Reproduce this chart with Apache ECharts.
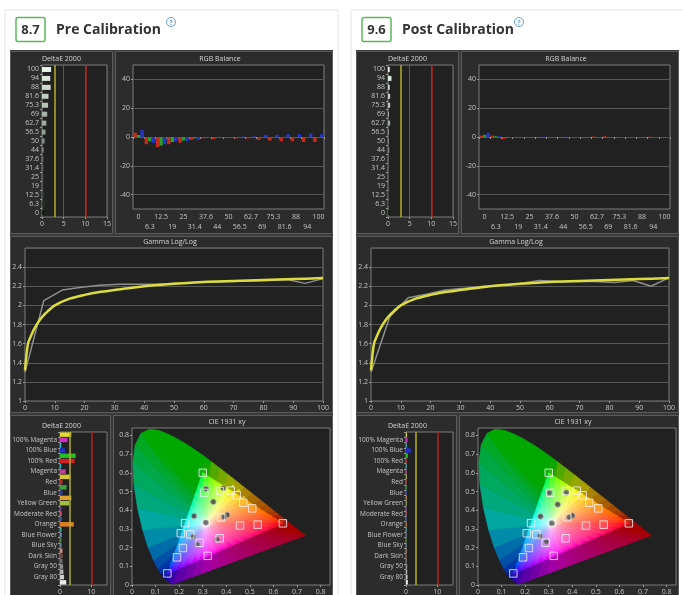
<!DOCTYPE html>
<html>
<head>
<meta charset="utf-8">
<script src="https://cdn.jsdelivr.net/npm/echarts@6/dist/echarts.min.js"></script>
<style>
  html, body { margin: 0; padding: 0; background: #fff; }
  #chart { width: 683px; height: 595px; }
</style>
</head>
<body>
<div id="chart"></div>
<script>
// grayscale steps (stimulus %)
const grayLevels = ['0', '6.3', '12.5', '19', '25', '31.4', '37.6', '44', '50', '56.5', '62.7', '69', '75.3', '81.6', '88', '94', '100'];
const grayStim = [0, 6.3, 12.5, 19, 25, 31.4, 37.6, 44, 50, 56.5, 62.7, 69, 75.3, 81.6, 88, 94, 100];

// DeltaE 2000 per grayscale step
const preGrayDE = [0.5, 0.8, 0.5, 0.3, 0.3, 0.3, 0.3, 0.4, 0.6, 0.8, 1.0, 1.2, 1.4, 1.5, 2.0, 1.9, 2.1];
const postGrayDE = [0.5, 0.2, 0.2, 0.1, 0.1, 0.1, 0.1, 0.3, 0.2, 0.2, 0.5, 0.2, 0.5, 0.5, 0.4, 0.8, 0.4];

// RGB balance (%)
const preR = [3, -5, -7, -5, -4, -2, -1, -1.5, -0.5, -1, -1, -2, -2.5, -3, -3, -3.5, -3.5];
const preG = [1.5, -3, -6, -3.5, -2.5, -1, -0.3, -0.2, 0, 0, 0, 0, 0, 0, 0, 0, 0];
const preB = [5, -4, -5, -3, -3, -2, -0.5, 0, 0, 0.3, 0.5, 1.5, 1.5, 2, 2, 2.5, 2];
const postR = [1, 1, -1.5, -0.5, -0.3, 0, -0.2, -0.2, -0.3, -0.3, 0.3, 0.5, 0, -0.3, -0.3, 0.2, -0.2];
const postG = [1.5, 0.5, -0.5, 0, 0, 0, 0, 0, 0, 0, 0, 0, 0, 0, 0, 0, 0];
const postB = [3, 0.5, -0.5, 0, 0, 0.3, 0, 0.2, -0.3, 0, 0, 0, -0.3, -0.4, 0, -0.3, -0.3];

// gamma log/log
const gammaTargetX = [0, 1, 2, 3, 5, 7, 10, 15, 20, 25, 30, 40, 50, 60, 70, 80, 90, 100];
const gammaTarget = [1.32, 1.6, 1.68, 1.75, 1.85, 1.92, 2.0, 2.07, 2.11, 2.14, 2.16, 2.2, 2.225, 2.245, 2.255, 2.265, 2.275, 2.285];
const preGamma = [1.3, 2.05, 2.16, 2.19, 2.21, 2.22, 2.22, 2.22, 2.23, 2.24, 2.245, 2.25, 2.255, 2.26, 2.27, 2.23, 2.28];
const postGamma = [1.3, 1.88, 2.08, 2.12, 2.16, 2.18, 2.2, 2.21, 2.23, 2.26, 2.25, 2.25, 2.25, 2.24, 2.26, 2.2, 2.29];

// colour patches, top to bottom
const patchNames = ['100% Yellow', '100% Magenta', '100% Cyan', '100% Blue', '100% Green', '100% Red',
  'Cyan', 'Magenta', 'Yellow', 'Red', 'Green', 'Blue', 'Orange Yellow', 'Yellow Green', 'Purple',
  'Moderate Red', 'Purplish Blue', 'Orange', 'Bluish Green', 'Blue Flower', 'Foliage', 'Blue Sky',
  'Light Skin', 'Dark Skin', 'Gray 35', 'Gray 50', 'Gray 65', 'Gray 80', 'White'];
const preColorDE = [3.6, 2.4, 0.4, 1.6, 5.0, 4.7, 0.4, 1.8, 3.3, 0.8, 2.1, 0.8, 3.6, 2.9, 0.5,
  0.6, 0.6, 4.4, 0.5, 0.6, 0.5, 0.5, 0.8, 0.9, 0.8, 1.0, 1.1, 1.3, 2.0];
const postColorDE = [0.3, 0.5, 0.2, 1.5, 0.6, 0.2, 0.2, 0.2, 0.2, 0.2, 0.2, 0.2, 0.2, 0.2, 0.2,
  0.2, 0.2, 0.2, 0.2, 0.2, 0.2, 0.2, 0.2, 0.3, 0.3, 0.4, 0.4, 0.5, 0.6];

// CIE 1931 xy
const spectralLocus = [
  [0.1741, 0.0050], [0.1714, 0.0051], [0.1644, 0.0109], [0.1566, 0.0177], [0.1440, 0.0297],
  [0.1355, 0.0399], [0.1241, 0.0578], [0.1096, 0.0868], [0.0913, 0.1327], [0.0687, 0.2007],
  [0.0454, 0.2950], [0.0235, 0.4127], [0.0082, 0.5384], [0.0039, 0.6548], [0.0139, 0.7502],
  [0.0389, 0.8120], [0.0743, 0.8338], [0.1142, 0.8262], [0.1547, 0.8059], [0.1929, 0.7816],
  [0.2296, 0.7543], [0.2658, 0.7243], [0.3016, 0.6923], [0.3373, 0.6589], [0.3731, 0.6245],
  [0.4087, 0.5896], [0.4441, 0.5547], [0.4788, 0.5202], [0.5125, 0.4866], [0.5448, 0.4544],
  [0.5752, 0.4242], [0.6029, 0.3965], [0.6270, 0.3725], [0.6658, 0.3340], [0.6915, 0.3083],
  [0.7190, 0.2809], [0.7347, 0.2653]];
const gamutPrimaries = [[0.64, 0.33], [0.30, 0.60], [0.15, 0.06]];
const whitePoint = [0.3127, 0.329];
const cieTargets = [[0.300, 0.600], [0.306, 0.493], [0.373, 0.503], [0.419, 0.505], [0.444, 0.480],
  [0.472, 0.440], [0.510, 0.410], [0.640, 0.330], [0.533, 0.323], [0.458, 0.318], [0.378, 0.362],
  [0.313, 0.332], [0.225, 0.331], [0.207, 0.277], [0.247, 0.271], [0.287, 0.226], [0.372, 0.250],
  [0.216, 0.198], [0.191, 0.148], [0.321, 0.156], [0.150, 0.062]];
const preMeasured = [[0.314, 0.514], [0.387, 0.518], [0.345, 0.445], [0.263, 0.369], [0.404, 0.375],
  [0.390, 0.364], [0.259, 0.258], [0.277, 0.217], [0.362, 0.244], [0.313, 0.334]];
const postMeasured = [[0.303, 0.493], [0.375, 0.495], [0.338, 0.431], [0.265, 0.367], [0.400, 0.371],
  [0.387, 0.362], [0.262, 0.262], [0.290, 0.232], [0.313, 0.330]];
const preYellowSweep = [[0.428, 0.530], [0.452, 0.505], [0.474, 0.470]];

const FONT = 'Open Sans';
const LBL = { color: '#c4c4c4', fontSize: 7, fontFamily: FONT };
const patchColors = ['#e0dc30', '#d030c8', '#30c0c8', '#2030c8', '#20c020', '#d02020', '#30b0c0', '#c040a0',
  '#d8c830', '#b03030', '#40a040', '#3040a0', '#e0a030', '#a0c040', '#704080', '#c05060', '#4050a0',
  '#e08020', '#40b0a0', '#7080b0', '#508040', '#6080a0', '#c09080', '#705040', '#707070', '#909090',
  '#b0b0b0', '#d0d0d0', '#e8e8e8'];

function xyToRgb(xy, k) {
  const x = xy[0], y = xy[1];
  const X = x / y, Y = 1, Z = (1 - x - y) / y;
  let r = Math.max(0, 3.2406 * X - 1.5372 * Y - 0.4986 * Z);
  let g = Math.max(0, -0.9689 * X + 1.8758 * Y + 0.0415 * Z);
  let b = Math.max(0, 0.0557 * X - 0.2040 * Y + 1.0570 * Z);
  const m = Math.max(r, g, b) || 1;
  const f = c => {
    c = c / m;
    c = c <= 0.0031308 ? 12.92 * c : 1.055 * Math.pow(c, 1 / 2.4) - 0.055;
    return Math.round(255 * c * k);
  };
  return 'rgb(' + f(r) + ',' + f(g) + ',' + f(b) + ')';
}

// one thin slice of the diagram, from the white point out to the edge a-b
// (colours are sampled further out than the real position, for a more saturated look)
function slice(api, a, b, k, push) {
  const pw = api.coord(whitePoint), pa = api.coord(a), pb = api.coord(b);
  const m = [(a[0] + b[0]) / 2, (a[1] + b[1]) / 2];
  const pm = api.coord(m);
  const stops = [];
  for (let i = 0; i <= 6; i++) {
    const t = i / 6, s = Math.pow(t, push);
    const p = [whitePoint[0] + s * (m[0] - whitePoint[0]), whitePoint[1] + s * (m[1] - whitePoint[1])];
    stops.push({ offset: t, color: xyToRgb(p, k) });
  }
  const grad = new echarts.graphic.LinearGradient(pw[0], pw[1], pm[0], pm[1], stops, true);
  return { type: 'polygon', shape: { points: [pw, pa, pb] }, style: { fill: grad, stroke: grad, lineWidth: 0.7 } };
}

function split(a, b, n) {
  const out = [];
  for (let i = 0; i < n; i++) out.push([a[0] + (b[0] - a[0]) * i / n, a[1] + (b[1] - a[1]) * i / n]);
  return out;
}

function renderDiagram(params, api) {
  const kids = [];
  const ring = spectralLocus.concat(split(spectralLocus[spectralLocus.length - 1], spectralLocus[0], 14).slice(1));
  for (let i = 0; i < ring.length; i++) kids.push(slice(api, ring[i], ring[(i + 1) % ring.length], 0.66, 0.35));
  for (let j = 0; j < 3; j++) {
    const pts = split(gamutPrimaries[j], gamutPrimaries[(j + 1) % 3], 14).concat([gamutPrimaries[(j + 1) % 3]]);
    for (let i = 0; i < pts.length - 1; i++) kids.push(slice(api, pts[i], pts[i + 1], 1, 0.6));
  }
  return { type: 'group', children: kids };
}

function grayColor(p) {
  const v = Math.round(20 + 210 * Math.pow(grayStim[p.dataIndex] / 100, 0.9));
  return 'rgb(' + v + ',' + Math.min(255, v + 12) + ',' + v + ')';
}

const limitLines = {
  silent: true, symbol: 'none', label: { show: false },
  data: [
    { xAxis: 3, lineStyle: { color: '#b4ae2a', width: 1.5, type: 'solid' } },
    { xAxis: 10, lineStyle: { color: '#b42222', width: 1.5, type: 'solid' } }
  ]
};

const gridStyle = { show: true, backgroundColor: '#212121', borderColor: '#7c7c7c', borderWidth: 1 };
const tick = { show: true, length: 2, lineStyle: { color: '#9a9a9a' } };
const split5 = { show: true, lineStyle: { color: '#585858', width: 1 } };

const option = { animation: false, backgroundColor: '#fff', grid: [], xAxis: [], yAxis: [], series: [], graphic: [] };

function addPanel(ox, d) {
  const g = option.grid.length;
  option.grid.push(
    Object.assign({ left: ox + 42, top: 65, width: 65, height: 152 }, gridStyle),
    Object.assign({ left: ox + 133, top: 65, width: 191, height: 144 }, gridStyle),
    Object.assign({ left: ox + 25, top: 248, width: 298, height: 153 }, gridStyle),
    Object.assign({ left: ox + 60, top: 432, width: 47, height: 158 }, gridStyle),
    Object.assign({ left: ox + 132, top: 428, width: 198, height: 159 }, gridStyle)
  );
  option.xAxis.push(
    { type: 'value', gridIndex: g, min: 0, max: 15, interval: 5, axisLine: { show: false }, axisTick: tick,
      axisLabel: Object.assign({ margin: 3 }, LBL), splitLine: split5 },
    { type: 'category', gridIndex: g + 1, data: grayLevels, axisLine: { show: false },
      axisTick: { show: true, length: 2, interval: 0, lineStyle: { color: '#9a9a9a' } },
      axisLabel: Object.assign({ interval: 0, margin: 3, lineHeight: 10, formatter: (v, i) => (i % 2 ? '\n' + v : v) }, LBL) },
    { type: 'value', gridIndex: g + 2, min: 0, max: 100, interval: 10, axisLine: { show: false }, axisTick: tick,
      axisLabel: Object.assign({ margin: 3 }, LBL), splitLine: { show: false } },
    { type: 'value', gridIndex: g + 3, min: 0, max: 15, interval: 10, axisLine: { show: false }, axisTick: tick,
      axisLabel: Object.assign({ margin: 3, showMaxLabel: false }, LBL), splitLine: { show: false } },
    { type: 'value', gridIndex: g + 4, min: 0, max: 0.84, interval: 0.1, axisLine: { show: false }, axisTick: tick,
      axisLabel: Object.assign({ margin: 3, showMaxLabel: false }, LBL), splitLine: { show: false } }
  );
  option.yAxis.push(
    { type: 'category', gridIndex: g, data: grayLevels, axisLine: { show: false },
      axisTick: { show: true, length: 2, lineStyle: { color: '#9a9a9a' } },
      axisLabel: Object.assign({ interval: 0, margin: 3 }, LBL) },
    { type: 'value', gridIndex: g + 1, min: -50, max: 50, axisLine: { show: false },
      axisTick: { show: true, length: 2, customValues: [-40, -20, 0, 20, 40], lineStyle: { color: '#9a9a9a' } },
      axisLabel: Object.assign({ margin: 3, customValues: [-40, -20, 0, 20, 40] }, LBL), splitLine: split5 },
    { type: 'value', gridIndex: g + 2, min: 1, max: 2.6, interval: 0.2, axisLine: { show: false }, axisTick: tick,
      axisLabel: Object.assign({ margin: 3, showMaxLabel: false }, LBL), splitLine: split5 },
    { type: 'category', gridIndex: g + 3, data: patchNames, inverse: true, axisLine: { show: false },
      axisTick: { show: true, length: 2, interval: 0, lineStyle: { color: '#9a9a9a' } },
      axisLabel: Object.assign({ margin: 3, interval: i => i % 2 === 1 }, LBL, { fontSize: 6.5 }) },
    { type: 'value', gridIndex: g + 4, min: 0, max: 0.84, interval: 0.1, axisLine: { show: false }, axisTick: tick,
      axisLabel: Object.assign({ margin: 3, showMaxLabel: false }, LBL), splitLine: { show: false } }
  );
  option.series.push(
    { type: 'bar', xAxisIndex: g, yAxisIndex: g, data: d.grayDE, barWidth: 5,
      itemStyle: { color: grayColor }, markLine: limitLines },
    { type: 'bar', xAxisIndex: g + 1, yAxisIndex: g + 1, data: d.r, barWidth: 3.5, barGap: '0%', itemStyle: { color: '#c42a1c' } },
    { type: 'bar', xAxisIndex: g + 1, yAxisIndex: g + 1, data: d.g, barWidth: 3.5, barGap: '0%', itemStyle: { color: '#26a22a' } },
    { type: 'bar', xAxisIndex: g + 1, yAxisIndex: g + 1, data: d.b, barWidth: 3.5, barGap: '0%', itemStyle: { color: '#2434c4' } },
    { type: 'line', xAxisIndex: g + 2, yAxisIndex: g + 2, data: grayStim.map((x, i) => [x, d.gamma[i]]),
      symbol: 'none', lineStyle: { color: '#8e8e8e', width: 1.5 } },
    { type: 'line', xAxisIndex: g + 2, yAxisIndex: g + 2, data: gammaTargetX.map((x, i) => [x, gammaTarget[i]]),
      symbol: 'none', smooth: 0.3, lineStyle: { color: '#dcdc3c', width: 2.5 } },
    { type: 'bar', xAxisIndex: g + 3, yAxisIndex: g + 3, data: d.colorDE, barWidth: 4.5,
      itemStyle: { color: p => patchColors[p.dataIndex] }, markLine: limitLines },
    { type: 'custom', xAxisIndex: g + 4, yAxisIndex: g + 4, data: [[0, 0]], renderItem: renderDiagram, silent: true, z: 1 },
    { type: 'scatter', xAxisIndex: g + 4, yAxisIndex: g + 4, data: d.sweep, symbol: 'circle', symbolSize: 2.5,
      itemStyle: { color: '#f0e040' }, z: 3 },
    { type: 'scatter', xAxisIndex: g + 4, yAxisIndex: g + 4, data: d.measured, symbol: 'circle', symbolSize: 5.5,
      itemStyle: { color: '#3c3c3c', borderColor: '#b0b0b0', borderWidth: 1 }, z: 4 },
    { type: 'scatter', xAxisIndex: g + 4, yAxisIndex: g + 4, data: cieTargets, symbol: 'rect', symbolSize: 7.5,
      itemStyle: { color: 'rgba(255,255,255,0.1)', borderColor: '#f4f4f4', borderWidth: 1 }, z: 5 }
  );

  const frame = (x, y, w, h) => ({ type: 'rect', z: -5, shape: { x: ox + x, y: y, width: w, height: h },
    style: { fill: '#2c2c2c', stroke: '#5a5a5a', lineWidth: 1 } });
  const title = (x, y, t, align) => ({ type: 'text', z: -4, x: ox + x, y: y,
    style: { text: t, fill: '#d4d4d4', font: '7px "' + FONT + '"', align: align || 'center', verticalAlign: 'middle' } });
  option.graphic.push(
    { type: 'rect', z: -10, shape: { x: ox + 5, y: 10, width: 333, height: 600 }, style: { fill: '#fff', stroke: '#e6e6e6', lineWidth: 1 } },
    { type: 'rect', z: -9, shape: { x: ox + 10, y: 50, width: 323, height: 560 }, style: { fill: '#3a3a3a' } },
    frame(10.5, 51.5, 102, 182), frame(115.5, 51.5, 217, 182), frame(10.5, 236.5, 322, 176),
    frame(10.5, 415.5, 100, 190), frame(113.5, 415.5, 219, 190),
    title(42, 59, 'DeltaE 2000', 'left'), title(220, 59, 'RGB Balance'), title(170, 242, 'Gamma Log/Log'),
    title(42, 426, 'DeltaE 2000', 'left'), title(227, 422, 'CIE 1931 xy'),
    { type: 'rect', z: -4, shape: { x: ox + 16, y: 17.5, width: 29, height: 24, r: 2 },
      style: { fill: '#fff', stroke: '#5cb85c', lineWidth: 1.5 } },
    { type: 'text', z: -3, x: ox + 30.5, y: 30, style: { text: d.score, fill: '#333', font: 'bold 13px "' + FONT + '"', align: 'center', verticalAlign: 'middle' } },
    { type: 'text', z: -3, x: ox + 56, y: 30, style: { text: d.heading, fill: '#333', font: 'bold 14px "' + FONT + '"', align: 'left', verticalAlign: 'middle' } },
    { type: 'circle', z: -3, shape: { cx: ox + d.iconX, cy: 22, r: 4.5 }, style: { fill: '#fff', stroke: '#6a9fd8', lineWidth: 1 } },
    { type: 'text', z: -2, x: ox + d.iconX, y: 22.5, style: { text: '?', fill: '#6a9fd8', font: 'bold 7px "' + FONT + '"', align: 'center', verticalAlign: 'middle' } }
  );
}

addPanel(0, { grayDE: preGrayDE, r: preR, g: preG, b: preB, gamma: preGamma, colorDE: preColorDE,
  measured: preMeasured, sweep: preYellowSweep, score: '8.7', heading: 'Pre Calibration', iconX: 171 });
addPanel(346, { grayDE: postGrayDE, r: postR, g: postG, b: postB, gamma: postGamma, colorDE: postColorDE,
  measured: postMeasured, sweep: [], score: '9.6', heading: 'Post Calibration', iconX: 173 });

const chart = echarts.init(document.getElementById('chart'));
chart.setOption(option);
</script>
</body>
</html>
